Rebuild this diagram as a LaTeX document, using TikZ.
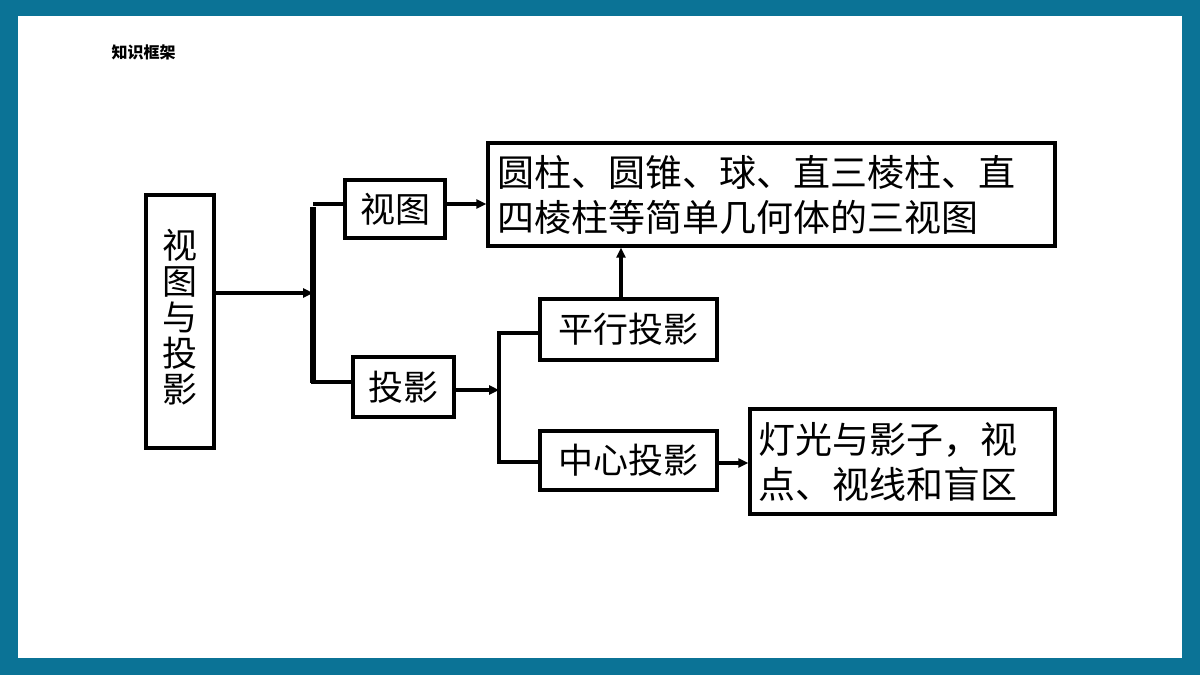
\documentclass[tikz,border=0pt]{standalone}
\usepackage{fontspec}
\newfontfamily\cjk{Noto Sans CJK SC}
\usetikzlibrary{arrows.meta}
\definecolor{frame}{HTML}{0B7396}
\begin{document}
\begin{tikzpicture}[x=1pt,y=-1pt,
  bx/.style={draw,line width=3.2pt,inner sep=0pt,font=\cjk\fontsize{35}{44}\selectfont},
  bigf/.style={font=\cjk\fontsize{37}{45}\selectfont},
  ln/.style={line width=3.2pt},
  ar/.style={line width=3.2pt,-{Triangle[length=10pt,width=9pt]}}]
\fill[frame] (0,0) rectangle (1200,675);
\fill[white] (18,16) rectangle (1182,658);
\useasboundingbox (0,0) rectangle (1200,675);
\node[font=\cjk\fontsize{16}{18}\selectfont\bfseries,anchor=west] (title) at (108,52) {知识框架};
\node[bx,minimum width=68pt,minimum height=253pt] (root) at (180,321.5) {\begin{tabular}{@{}c@{}}视\\[-8pt]图\\[-8pt]与\\[-8pt]投\\[-8pt]影\end{tabular}};
\node[bx,minimum width=100pt,minimum height=58pt] (st) at (395,209) {视图};
\node[bx,bigf,minimum width=567pt,minimum height=103pt,text width=549pt,align=left] (big) at (771.5,194.5) {圆柱、圆锥、球、直三棱柱、直\\四棱柱等简单几何体的三视图};
\node[bx,minimum width=101pt,minimum height=60pt] (ty) at (403.5,387) {投影};
\node[bx,minimum width=177pt,minimum height=61pt] (px) at (628.5,329.5) {平行投影};
\node[bx,minimum width=177pt,minimum height=59pt] (zx) at (628.5,460.5) {中心投影};
\node[bx,bigf,minimum width=305pt,minimum height=105pt,text width=289pt,align=left] (dg) at (902.5,461.5) {灯光与影子，视\\点、视线和盲区};
\coordinate (bt) at (313,207); \coordinate (bb) at (313,383);
\draw[line width=5.5pt] (bt) -- (bb);
\draw[ar] (root.east |- 0,293) -- (313,293);
\draw[ln] (313,204) -- (st.west |- 0,204);
\draw[ln] (311,382) -- (ty.west |- 0,382);
\draw[ar] (st.east |- 0,204) -- (big.west |- 0,204);
\draw[ar] (ty.east |- 0,390) -- (499,390);
\draw[ln] (px.west |- 0,333) -- (499,333) -- (499,462) -- (zx.west |- 0,462);
\draw[ar] (px.north -| 621,0) -- (big.south -| 621,0);
\draw[ar] (zx.east |- 0,463) -- (dg.west |- 0,463);
\end{tikzpicture}
\end{document}
